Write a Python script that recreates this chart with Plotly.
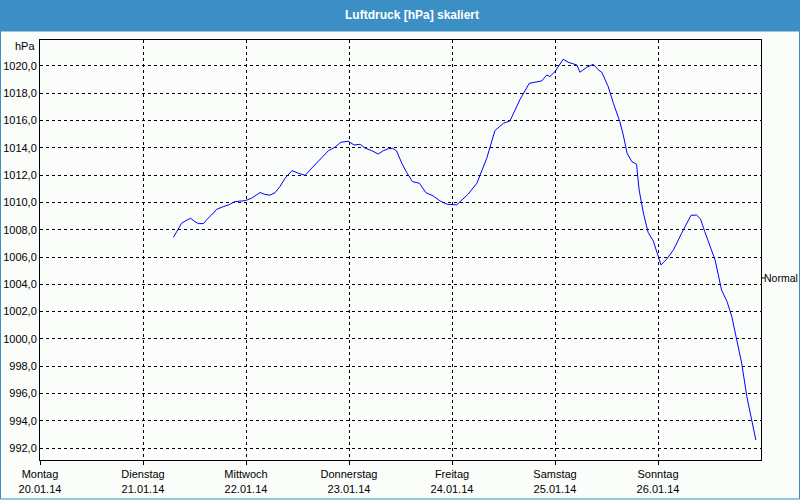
import pandas as pd
import plotly.graph_objects as go

# ---- data ----
start = "2014-01-20 00:00"
hours = [31.1, 32.2, 33.0, 34.0, 35.1, 36.1, 36.9, 38.1, 38.8, 40.2, 41.2, 42.7, 44.1, 45.4,
         47.8, 49.3, 51.3, 52.4, 53.6, 54.8, 55.9, 57.1, 58.7, 60.2, 61.8, 63.3, 64.9, 67.2,
         68.7, 70.1, 71.8, 73.2, 74.6, 75.7, 77.3, 78.8, 80.0, 81.2, 82.2, 83.1, 84.3, 85.4,
         86.8, 88.4, 89.9, 91.6, 93.2, 94.8, 97.1, 99.8, 101.8, 104.1, 106.0, 108.0, 109.5,
         111.8, 114.0, 115.7, 116.9, 118.1, 118.8, 120.0, 121.9, 123.1, 125.1, 125.8, 127.4,
         128.9, 130.1, 130.9, 132.4, 133.6, 135.1, 135.9, 136.8, 137.9, 139.0, 139.6, 140.6,
         141.7, 142.9, 143.8, 144.7, 146.0, 147.6, 149.5, 151.7, 153.0, 153.9, 154.9, 156.5,
         157.3, 158.8, 160.1, 161.2, 162.3, 163.5, 164.7, 165.8, 166.8]
pressure = [1007.45, 1007.99, 1008.48, 1008.67, 1008.84, 1008.59, 1008.45, 1008.45, 1008.72,
            1009.16, 1009.50, 1009.69, 1009.84, 1010.06, 1010.13, 1010.31, 1010.73, 1010.59,
            1010.53, 1010.72, 1011.16, 1011.77, 1012.33, 1012.14, 1011.99, 1012.51, 1013.06,
            1013.79, 1014.04, 1014.41, 1014.48, 1014.21, 1014.26, 1013.99, 1013.79, 1013.55,
            1013.79, 1013.94, 1013.96, 1013.77, 1012.87, 1012.22, 1011.52, 1011.41, 1010.72,
            1010.48, 1010.11, 1009.87, 1009.82, 1010.62, 1011.41, 1013.24, 1015.26, 1015.80,
            1015.97, 1017.51, 1018.73, 1018.85, 1018.90, 1019.34, 1019.22, 1019.58, 1020.49,
            1020.27, 1020.07, 1019.54, 1019.90, 1020.12, 1019.71, 1019.54, 1018.48, 1017.27,
            1015.92, 1014.95, 1013.60, 1012.99, 1012.80, 1010.92, 1009.21, 1007.80, 1007.18,
            1006.30, 1005.42, 1005.84, 1006.52, 1007.74, 1009.06, 1009.07, 1008.79, 1007.86,
            1006.52, 1005.79, 1003.59, 1002.73, 1001.63, 1000.05, 998.22, 995.77, 994.07,
            992.60]

day_ticks = ["2014-01-20", "2014-01-21", "2014-01-22", "2014-01-23",
             "2014-01-24", "2014-01-25", "2014-01-26"]
day_names = ["Montag", "Dienstag", "Mittwoch", "Donnerstag", "Freitag", "Samstag", "Sonntag"]
day_dates = ["20.01.14", "21.01.14", "22.01.14", "23.01.14", "24.01.14", "25.01.14", "26.01.14"]
y_ticks = [992, 994, 996, 998, 1000, 1002, 1004, 1006, 1008, 1010, 1012, 1014, 1016, 1018, 1020]
y_labels = ["992,0", "994,0", "996,0", "998,0", "1000,0", "1002,0", "1004,0", "1006,0",
            "1008,0", "1010,0", "1012,0", "1014,0", "1016,0", "1018,0", "1020,0"]
normal_level = 1004.47
title_text = "Luftdruck [hPa] skaliert"

# ---- figure ----
t = pd.Timestamp(start) + pd.to_timedelta(hours, unit="h")

W, H = 800, 500
L, R, T, B = 40, 39, 40, 40
pw, ph = W - L - R, H - T - B
def px(x):  # pixel x -> paper
    return (x - L) / pw
def py(y):  # pixel y -> paper
    return (H - B - y) / ph

FONT = "Liberation Sans"
fig = go.Figure()
fig.add_trace(go.Scatter(x=t, y=pressure, mode="lines",
                         line=dict(color="#0000ff", width=1), hoverinfo="skip",
                         showlegend=False))

fig.update_layout(
    width=W, height=H,
    margin=dict(l=L, r=R, t=T, b=B, autoexpand=False),
    paper_bgcolor="#fbfdfb", plot_bgcolor="#fbfdfb",
    font=dict(family=FONT, size=11, color="#000000"),
    xaxis=dict(range=["2014-01-20", "2014-01-27"], tickvals=day_ticks,
               ticktext=[f"{n}<br>{d}" for n, d in zip(day_names, day_dates)],
               showgrid=True, gridcolor="#000000", gridwidth=1, griddash="3px,3px",
               showline=True, linecolor="#000000", linewidth=1, mirror=True,
               ticks="outside", ticklen=4, tickcolor="#000000", zeroline=False,
               automargin=False, tickfont=dict(family=FONT, size=11)),
    yaxis=dict(range=[991.13, 1021.9], tickvals=y_ticks, ticktext=y_labels,
               showgrid=True, gridcolor="#000000", gridwidth=1, griddash="3px,3px",
               showline=True, linecolor="#000000", linewidth=1, mirror=True,
               ticks="", zeroline=False, automargin=False,
               tickfont=dict(family=FONT, size=11)),
    shapes=[
        dict(type="rect", xref="paper", yref="paper", x0=px(0), x1=px(W), y0=py(31), y1=py(0),
             fillcolor="#3b8fc4", line=dict(width=0), layer="above"),
        dict(type="rect", xref="paper", yref="paper", x0=px(0.5), x1=px(W - 0.5),
             y0=py(H - 1), y1=py(31), fillcolor="rgba(0,0,0,0)",
             line=dict(color="#3b8fc4", width=1), layer="above"),
        dict(type="line", xref="paper", yref="y", x0=1, x1=px(765),
             y0=normal_level, y1=normal_level, line=dict(color="#000000", width=1)),
    ],
    annotations=[
        dict(text=f"<b>{title_text}</b>", xref="paper", yref="paper", x=px(412), y=py(15),
             xanchor="center", yanchor="middle", showarrow=False,
             font=dict(family=FONT, size=12, color="#ffffff")),
        dict(text="hPa", xref="paper", yref="paper", x=px(37), y=py(46),
             xanchor="right", yanchor="middle", showarrow=False,
             font=dict(family=FONT, size=11)),
        dict(text="Normal", xref="paper", yref="y", x=px(763), y=normal_level,
             xanchor="left", yanchor="middle", showarrow=False, borderpad=0,
             font=dict(family=FONT, size=10.5)),
    ],
)

fig.write_html("out.html")
